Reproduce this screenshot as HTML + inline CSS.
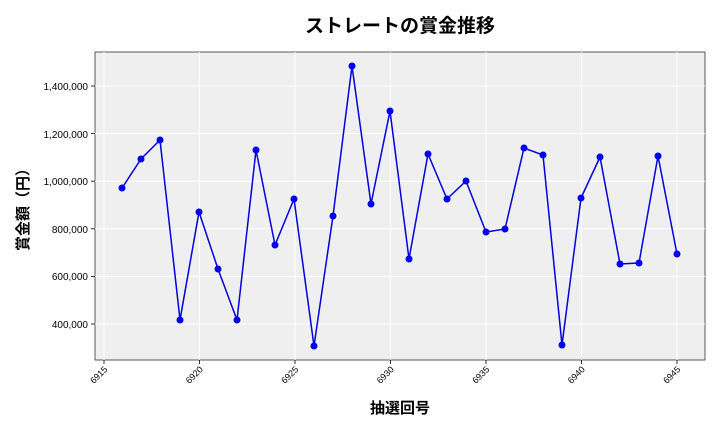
<!DOCTYPE html>
<html><head><meta charset="utf-8"><style>
body{margin:0;background:#fff;}
text{font-family:"Liberation Sans","Noto Sans CJK JP",sans-serif;}
</style></head><body>
<svg width="720" height="432" viewBox="0 0 720 432" xmlns="http://www.w3.org/2000/svg">
<rect width="720" height="432" fill="#fff"/>
<rect x="95" y="52" width="610" height="308" fill="#efefef" stroke="#333" stroke-width="0.8"/>
<g stroke="#fff" stroke-width="1">
<line x1="104" y1="52" x2="104" y2="360"/><line x1="199.5" y1="52" x2="199.5" y2="360"/><line x1="295" y1="52" x2="295" y2="360"/><line x1="390.5" y1="52" x2="390.5" y2="360"/><line x1="486" y1="52" x2="486" y2="360"/><line x1="581.5" y1="52" x2="581.5" y2="360"/><line x1="677" y1="52" x2="677" y2="360"/>
<line x1="95" y1="324" x2="705" y2="324"/><line x1="95" y1="276.4" x2="705" y2="276.4"/><line x1="95" y1="228.8" x2="705" y2="228.8"/><line x1="95" y1="181.2" x2="705" y2="181.2"/><line x1="95" y1="133.6" x2="705" y2="133.6"/><line x1="95" y1="86" x2="705" y2="86"/>
</g>
<g font-size="10" fill="#000" text-anchor="end">
<text x="88" y="328">400,000</text><text x="88" y="280">600,000</text><text x="88" y="233">800,000</text><text x="88" y="185">1,000,000</text><text x="88" y="138">1,200,000</text><text x="88" y="90">1,400,000</text>
</g>
<g stroke="#000" stroke-width="0.8">
<line x1="91" y1="324" x2="95" y2="324"/><line x1="91" y1="276.4" x2="95" y2="276.4"/><line x1="91" y1="228.8" x2="95" y2="228.8"/><line x1="91" y1="181.2" x2="95" y2="181.2"/><line x1="91" y1="133.6" x2="95" y2="133.6"/><line x1="91" y1="86" x2="95" y2="86"/>
<line x1="104" y1="360" x2="104" y2="364"/><line x1="199.5" y1="360" x2="199.5" y2="364"/><line x1="295" y1="360" x2="295" y2="364"/><line x1="390.5" y1="360" x2="390.5" y2="364"/><line x1="486" y1="360" x2="486" y2="364"/><line x1="581.5" y1="360" x2="581.5" y2="364"/><line x1="677" y1="360" x2="677" y2="364"/>
</g>
<g font-size="9" fill="#000" text-anchor="end">
<text transform="translate(108,370) rotate(-45)">6915</text>
<text transform="translate(203.5,370) rotate(-45)">6920</text>
<text transform="translate(299,370) rotate(-45)">6925</text>
<text transform="translate(394.5,370) rotate(-45)">6930</text>
<text transform="translate(490,370) rotate(-45)">6935</text>
<text transform="translate(585.5,370) rotate(-45)">6940</text>
<text transform="translate(681,370) rotate(-45)">6945</text>
</g>
<text x="400" y="32" font-size="19" font-weight="bold" text-anchor="middle">ストレートの賞金推移</text>
<text x="400" y="413" font-size="15" font-weight="bold" text-anchor="middle">抽選回号</text>
<text transform="translate(28,206) rotate(-90)" font-size="15" font-weight="bold" text-anchor="middle">賞金額（円）</text>
<polyline fill="none" stroke="#0000dd" stroke-width="1.5" points="122,188 141,159 160,140 180,320 199,212 218,269 237,320 256,150 275,245 294,199 314,346 333,216 352,66 371,204 390,111 409,259 428,154 447,199 466,181 486,232 505,229 524,148 543,155 562,345 581,198 600,157 620,264 639,263 658,156 677,254"/>
<g fill="#0000ee">
<circle cx="122" cy="188" r="3.5"/><circle cx="141" cy="159" r="3.5"/><circle cx="160" cy="140" r="3.5"/><circle cx="180" cy="320" r="3.5"/><circle cx="199" cy="212" r="3.5"/><circle cx="218" cy="269" r="3.5"/><circle cx="237" cy="320" r="3.5"/><circle cx="256" cy="150" r="3.5"/><circle cx="275" cy="245" r="3.5"/><circle cx="294" cy="199" r="3.5"/><circle cx="314" cy="346" r="3.5"/><circle cx="333" cy="216" r="3.5"/><circle cx="352" cy="66" r="3.5"/><circle cx="371" cy="204" r="3.5"/><circle cx="390" cy="111" r="3.5"/><circle cx="409" cy="259" r="3.5"/><circle cx="428" cy="154" r="3.5"/><circle cx="447" cy="199" r="3.5"/><circle cx="466" cy="181" r="3.5"/><circle cx="486" cy="232" r="3.5"/><circle cx="505" cy="229" r="3.5"/><circle cx="524" cy="148" r="3.5"/><circle cx="543" cy="155" r="3.5"/><circle cx="562" cy="345" r="3.5"/><circle cx="581" cy="198" r="3.5"/><circle cx="600" cy="157" r="3.5"/><circle cx="620" cy="264" r="3.5"/><circle cx="639" cy="263" r="3.5"/><circle cx="658" cy="156" r="3.5"/><circle cx="677" cy="254" r="3.5"/>
</g>
</svg>
</body></html>
